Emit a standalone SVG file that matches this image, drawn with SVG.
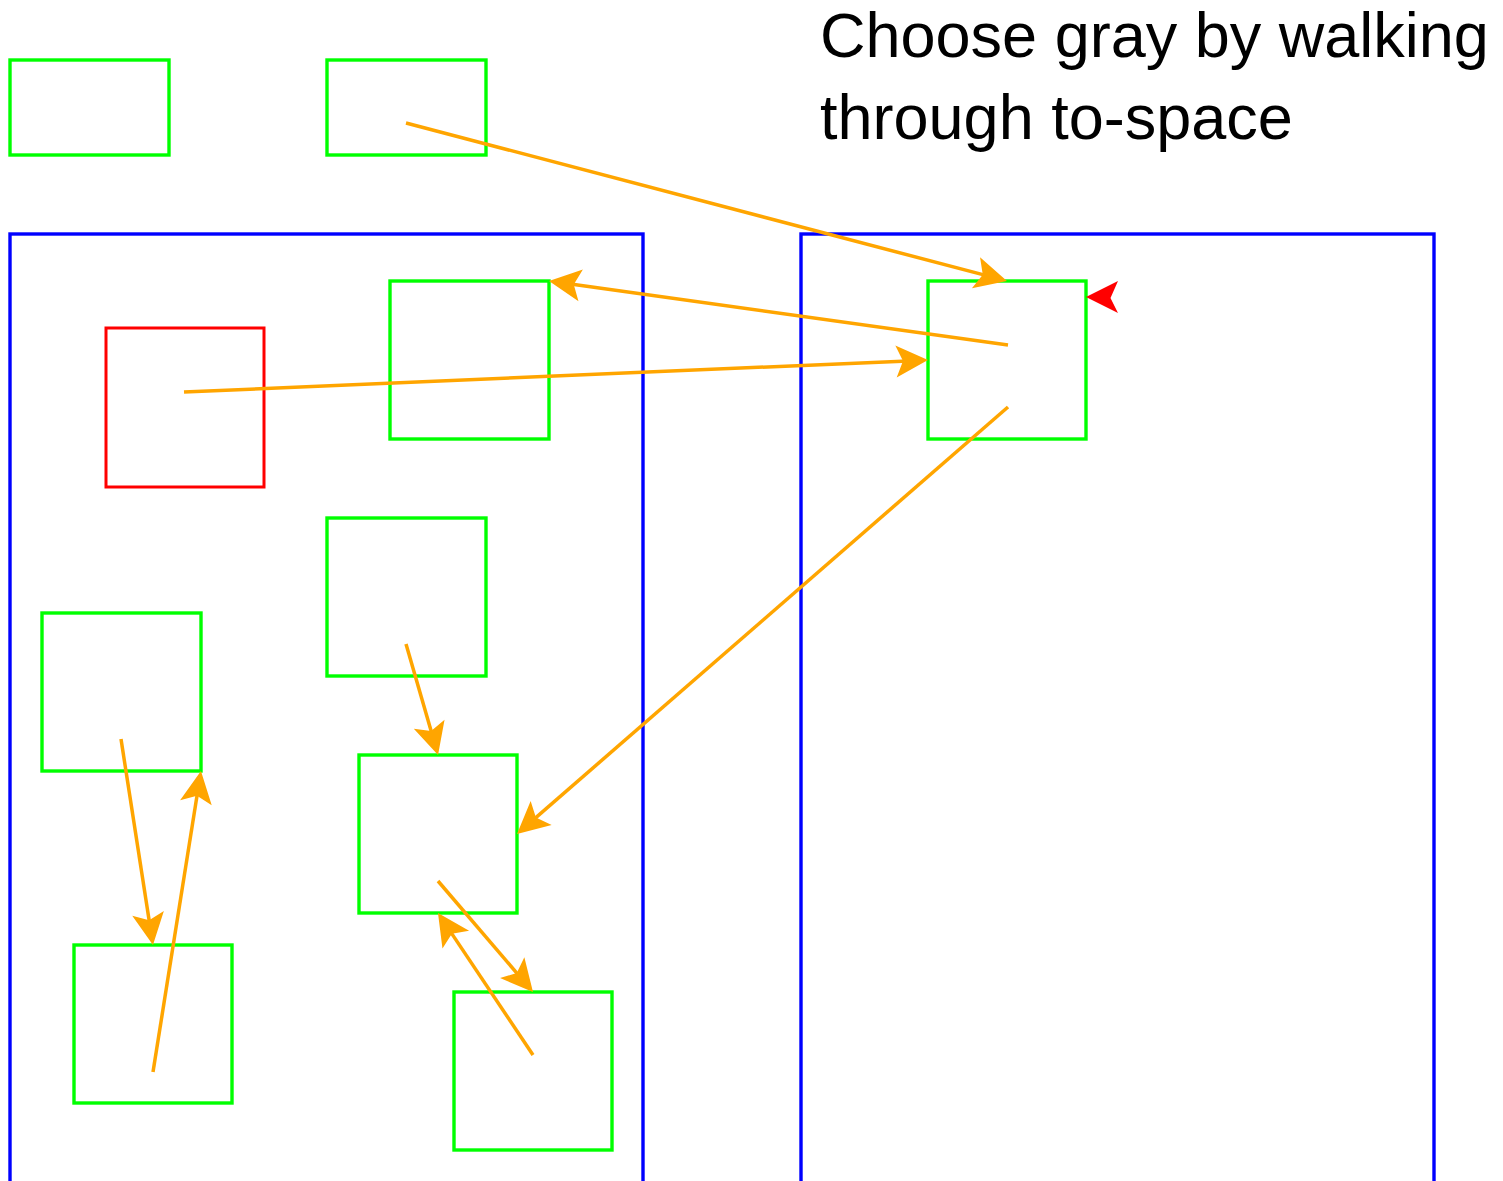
<svg xmlns="http://www.w3.org/2000/svg" width="1503" height="1181" viewBox="0 0 1503 1181">
<style>
.g{fill:none;stroke:#00FF00;stroke-width:3.4}
.b{fill:none;stroke:#0000FF;stroke-width:3.4}
.r{fill:none;stroke:#FF0000;stroke-width:3}
.e{fill:none;stroke:#FFA500;stroke-width:3.5;marker-end:url(#ah)}
.t{font-family:"Liberation Sans",Arial,sans-serif;font-size:63px;fill:#000}
</style>
<defs>
<marker id="ah" markerUnits="userSpaceOnUse" orient="auto" refX="0" refY="0" markerWidth="40" markerHeight="40" overflow="visible">
<path d="M20,0 L-12,-16 L-5,0 L-12,16 Z" fill="#FFA500"/>
</marker>
</defs>
<rect width="1503" height="1181" fill="#fff"/>
<g id="spaces">
<rect id="from-space" class="b" x="10" y="234" width="633" height="960"/>
<rect id="to-space" class="b" x="801" y="234" width="633" height="960"/>
</g>
<g id="root1"><rect class="g" x="10" y="60" width="159" height="95"/></g>
<g id="root2"><rect class="g" x="327" y="60" width="159" height="95"/></g>
<g id="red"><rect class="r" x="106" y="328" width="158" height="159"/></g>
<g id="n1"><rect class="g" x="390" y="281" width="159" height="158"/></g>
<g id="n2"><rect class="g" x="327" y="518" width="159" height="158"/></g>
<g id="n3"><rect class="g" x="42" y="613" width="159" height="158"/></g>
<g id="n4"><rect class="g" x="359" y="755" width="158" height="158"/></g>
<g id="n5"><rect class="g" x="74" y="945" width="158" height="158"/></g>
<g id="n6"><rect class="g" x="454" y="992" width="158" height="158"/></g>
<g id="n7"><rect class="g" x="928" y="281" width="158" height="158"/></g>
<g id="connectors">
<line class="e" x1="406" y1="123" x2="987.6" y2="275.9"/>
<line class="e" x1="1008" y1="345" x2="568.8" y2="283.8"/>
<line class="e" x1="184" y1="392" x2="908" y2="360.9"/>
<line class="e" x1="1008" y1="407" x2="532.1" y2="820.9"/>
<line class="e" x1="406" y1="644" x2="432.5" y2="735.8"/>
<line class="e" x1="121" y1="739" x2="149.9" y2="925.2"/>
<line class="e" x1="153" y1="1072" x2="197.8" y2="790.8"/>
<line class="e" x1="438" y1="881" x2="520" y2="976.8"/>
<line class="e" x1="533" y1="1055" x2="449.1" y2="929.6"/>
</g>
<g id="scan-pointer"><path d="M1086,297 L1118,281 L1110.5,298 L1118,313 Z" fill="#FF0000"/></g>
<g id="caption">
<text class="t" x="820" y="57">Choose gray by walking</text>
<text class="t" x="820" y="139">through to-space</text>
</g>
</svg>
